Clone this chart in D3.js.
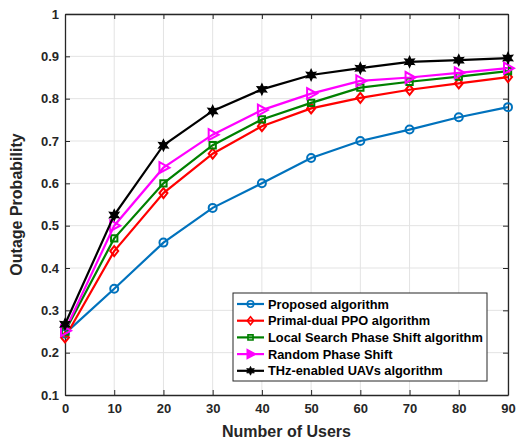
<!DOCTYPE html>
<html>
<head>
<meta charset="utf-8">
<script src="https://cdn.jsdelivr.net/npm/d3@7"></script>
<style>
  body { margin: 0; background: #fff; }
  svg { font-family: "Liberation Sans", Arial, sans-serif; font-weight: bold; }
</style>
</head>
<body>
<svg id="chart" width="516" height="439"></svg>
<script>
// values
const users = [0, 10, 20, 30, 40, 50, 60, 70, 80, 90];
const proposed = [0.245, 0.351, 0.46, 0.542, 0.60, 0.66, 0.70, 0.727, 0.756, 0.78];
const primalDual = [0.236, 0.44, 0.577, 0.67, 0.735, 0.777, 0.802, 0.821, 0.836, 0.851];
const localSearch = [0.25, 0.47, 0.60, 0.69, 0.751, 0.79, 0.826, 0.84, 0.852, 0.865];
const randomShift = [0.252, 0.50, 0.637, 0.715, 0.773, 0.812, 0.842, 0.85, 0.861, 0.872];
const thzUavs = [0.267, 0.525, 0.69, 0.771, 0.822, 0.856, 0.872, 0.887, 0.891, 0.896];
const xTicks = [0, 10, 20, 30, 40, 50, 60, 70, 80, 90];
const yTicks = [0.1, 0.2, 0.3, 0.4, 0.5, 0.6, 0.7, 0.8, 0.9, 1];

const series = [
  {name: 'Proposed algorithm', values: proposed, color: '#0072BD', marker: 'circle'},
  {name: 'Primal-dual PPO algorithm', values: primalDual, color: '#FF0000', marker: 'diamond'},
  {name: 'Local Search Phase Shift algorithm', values: localSearch, color: '#008000', marker: 'square'},
  {name: 'Random Phase Shift', values: randomShift, color: '#FF00FF', marker: 'triangle'},
  {name: 'THz-enabled UAVs algorithm', values: thzUavs, color: '#000000', marker: 'star'}
];

const svg = d3.select('#chart');
const mLeft = 65, mRight = 508, mTop = 14, mBottom = 395;

const x = d3.scaleLinear().domain([0, 90]).range([mLeft, mRight]);
const y = d3.scaleLinear().domain([0.1, 1]).range([mBottom, mTop]);

// grid
const grid = svg.append('g').attr('stroke', '#e3e3e3').attr('stroke-width', 1);
xTicks.slice(1).forEach(function (t) {
  grid.append('line').attr('x1', x(t)).attr('x2', x(t)).attr('y1', mTop).attr('y2', mBottom);
});
yTicks.slice(1).forEach(function (t) {
  grid.append('line').attr('y1', y(t)).attr('y2', y(t)).attr('x1', mLeft).attr('x2', mRight);
});

// axes, ticks inward
const fmt = d3.format('~g');
svg.append('g').attr('transform', 'translate(0,' + mBottom + ')')
  .call(d3.axisBottom(x).tickValues(xTicks).tickSizeInner(-5).tickSizeOuter(0).tickPadding(9).tickFormat(fmt));
svg.append('g').attr('transform', 'translate(' + mLeft + ',0)')
  .call(d3.axisLeft(y).tickValues(yTicks).tickSizeInner(-5).tickSizeOuter(0).tickPadding(6).tickFormat(fmt));
svg.append('g').attr('transform', 'translate(0,' + mTop + ')')
  .call(d3.axisTop(x).tickValues(xTicks).tickSizeInner(-5).tickSizeOuter(0).tickFormat(''));
svg.append('g').attr('transform', 'translate(' + mRight + ',0)')
  .call(d3.axisRight(y).tickValues(yTicks).tickSizeInner(-5).tickSizeOuter(0).tickFormat(''));

svg.selectAll('.domain').attr('stroke', '#262626').attr('stroke-width', 1.3);
svg.selectAll('.tick line').attr('stroke', '#262626');
svg.selectAll('.tick text').attr('font-size', 13).attr('font-weight', 'bold')
  .attr('font-family', '"Liberation Sans", Arial, sans-serif').attr('fill', '#262626');

// six-pointed star like the MATLAB 'h' marker
function hexagram(ro, ri) {
  const pts = [];
  for (let k = 0; k < 12; k++) {
    const a = -Math.PI / 2 + k * Math.PI / 6;
    const r = k % 2 === 0 ? ro : ri;
    pts.push([r * Math.cos(a), r * Math.sin(a)]);
  }
  return 'M' + pts.map(function (p) { return p[0].toFixed(2) + ',' + p[1].toFixed(2); }).join('L') + 'Z';
}

function markerPath(kind) {
  if (kind === 'circle') return d3.symbol(d3.symbolCircle, 50)();
  if (kind === 'square') return d3.symbol(d3.symbolSquare, 40)();
  if (kind === 'diamond') return 'M0,-5L4,0L0,5L-4,0Z';
  if (kind === 'triangle') return 'M-4,-5.5L6,0L-4,5.5Z';
  return hexagram(5.5, 2.8);
}

const line = d3.line().x(function (d, i) { return x(users[i]); }).y(function (d) { return y(d); });

series.forEach(function (s) {
  const g = svg.append('g');
  g.append('path').datum(s.values)
    .attr('d', line).attr('fill', 'none').attr('stroke', s.color).attr('stroke-width', 2.2);
  g.selectAll('path.mk').data(s.values).enter().append('path')
    .attr('class', 'mk')
    .attr('transform', function (d, i) { return 'translate(' + x(users[i]) + ',' + y(d) + ')'; })
    .attr('d', markerPath(s.marker))
    .attr('fill', s.marker === 'star' ? s.color : 'none')
    .attr('stroke', s.color).attr('stroke-width', s.marker === 'star' ? 1.2 : 2);
});

// legend
const lg = svg.append('g');
lg.append('rect').attr('x', 233).attr('y', 293).attr('width', 254).attr('height', 88)
  .attr('fill', '#fff').attr('stroke', '#262626').attr('stroke-width', 1);
series.forEach(function (s, i) {
  const ly = 304 + i * 16.7;
  lg.append('line').attr('x1', 237).attr('x2', 264).attr('y1', ly).attr('y2', ly)
    .attr('stroke', s.color).attr('stroke-width', 2.2);
  lg.append('path').attr('transform', 'translate(250.5,' + ly + ') scale(0.8)')
    .attr('d', markerPath(s.marker))
    .attr('fill', s.marker === 'star' || s.marker === 'triangle' ? s.color : 'none')
    .attr('stroke', s.color).attr('stroke-width', s.marker === 'star' ? 1 : 2);
  lg.append('text').attr('x', 268).attr('y', ly + 4.5).attr('font-size', 12.8)
    .attr('fill', '#000').text(s.name);
});

// axis titles
svg.append('text').attr('x', (mLeft + mRight) / 2).attr('y', 437).attr('text-anchor', 'middle')
  .attr('font-size', 16).attr('fill', '#262626').text('Number of Users');
svg.append('text').attr('transform', 'translate(22,' + (mTop + mBottom) / 2 + ') rotate(-90)')
  .attr('text-anchor', 'middle').attr('font-size', 16).attr('fill', '#262626').text('Outage Probability');
</script>
</body>
</html>
